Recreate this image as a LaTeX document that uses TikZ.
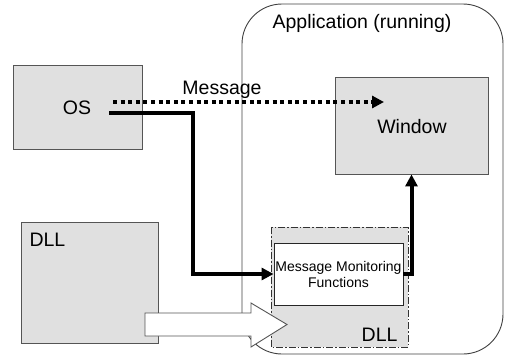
\documentclass[tikz,border=0pt]{standalone}
\usepackage{fontspec}
\setmainfont{Liberation Sans}
\usetikzlibrary{arrows.meta,calc}
\definecolor{boxgray}{HTML}{E0E0E0}
\definecolor{edgegray}{HTML}{555555}
\tikzset{
  big/.style={font=\fontsize{19.5}{22}\selectfont},
  small/.style={font=\fontsize{14}{16}\selectfont},
  graybox/.style={draw=edgegray,line width=0.9pt,fill=boxgray,inner sep=0pt},
  flow/.style={line width=4pt,-{Triangle[length=12pt,width=12pt]}},
  msgflow/.style={line width=4pt,dash pattern=on 4pt off 3.6pt,-{Triangle[length=12pt,width=12pt]}},
}
\begin{document}
\begin{tikzpicture}[x=1pt,y=-1pt]
\useasboundingbox (0,0) rectangle (506,357);

% running application
\draw[black!75,line width=0.9pt,rounded corners=40pt] (242,4) rectangle (503,354);
\node[big,anchor=base] (apptitle) at (362,28) {Application (running)};

% injected DLL inside the application
\draw[black!80,line width=0.8pt,fill=boxgray,dash pattern=on 7pt off 2pt on 1.5pt off 2pt]
  (271,227) rectangle (408,347);
\node[big,anchor=base east] (dllin) at (401,341) {DLL};
\node[draw=black!85,line width=0.9pt,fill=white,minimum width=129pt,minimum height=62pt,
      inner sep=0pt,small,align=center] (mmf) at (338.5,274) {Message Monitoring\\Functions};

% window of the application
\node[graybox,minimum width=153pt,minimum height=97pt] (win) at (411.5,125.5) {};
\node[big] (wintext) at (412,127) {Window};

% operating system
\node[graybox,minimum width=129pt,minimum height=84pt] (os) at (77.5,107) {};
\node[big] (ostext) at (77,108) {OS};

% DLL on disk
\node[graybox,minimum width=137pt,minimum height=121pt] (dll) at (89.5,282.5) {};
\node[big,anchor=base west] (dlltext) at (26,246) {DLL};

% message path from the OS to the window
\coordinate (msgout) at (113,102);
\coordinate (msgend) at (384,102);
\draw[msgflow] (msgout) -- (msgend);
\node[big,anchor=base] (msglabel) at (222,94) {Message};

% hooked path through the monitoring functions
\coordinate (hookout) at (109,113);
\coordinate (hookbend) at (193,113);
\draw[flow] (hookout) -- (hookbend) |- (mmf.west);
\draw[flow] (mmf.east) -| (win.south);

% injection of the DLL into the application
\draw[edgegray,line width=0.9pt,fill=white]
  (145,313) -- (251,313) -- (251,303) -- (287,324.5) -- (251,347) -- (251,336) -- (145,336) -- cycle;
\end{tikzpicture}
\end{document}
